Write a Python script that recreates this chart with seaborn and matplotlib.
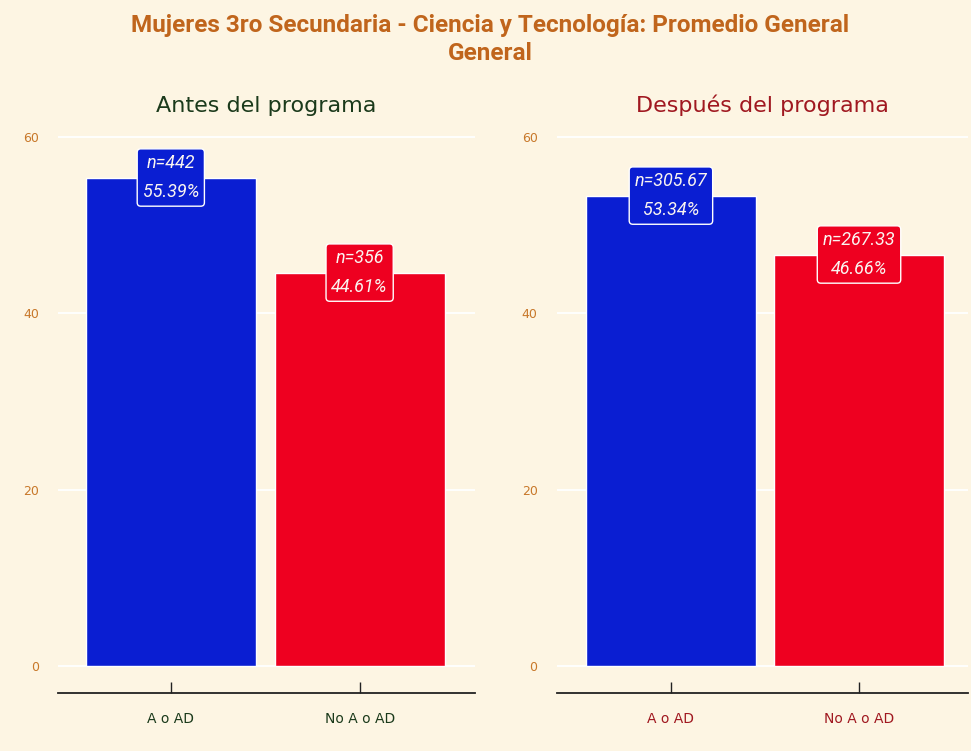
import matplotlib
matplotlib.use("Agg")
import matplotlib.pyplot as plt
import seaborn as sns
import pandas as pd
from matplotlib import font_manager

categories = ["A o AD", "No A o AD"]
antes_pct = [55.39, 44.61]
antes_n = ["442", "356"]
despues_pct = [53.34, 46.66]
despues_n = ["305.67", "267.33"]
panel_titles = ["Antes del programa", "Después del programa"]
main_title = "Mujeres 3ro Secundaria - Ciencia y Tecnología: Promedio General\nGeneral"
yticks = [0, 20, 40, 60]

sns.set_theme(style="white")
names = {f.name for f in font_manager.fontManager.ttflist}
narrow = "Liberation Sans Narrow" if "Liberation Sans Narrow" in names else "Roboto"
plt.rcParams['font.family'] = ['DejaVu Sans']

bg = "#FDF5E3"
bar_colors = ["#0A1ED2", "#EE0020"]
title_col = "#C0651C"
tick_col = "#C8782A"
panel_cols = ["#1B3A1B", "#A01820"]

fig = plt.figure(figsize=(9.71, 7.51), dpi=100, facecolor=bg)
axes = [fig.add_axes([0.060, 0.0772, 0.429, 0.757]),
        fig.add_axes([0.5736, 0.0772, 0.4234, 0.757])]
xlims = [(-0.596, 1.61), (-0.606, 1.58)]

for i, (ax, pct, nn) in enumerate(zip(axes, [antes_pct, despues_pct], [antes_n, despues_n])):
    df = pd.DataFrame({"cat": categories, "pct": pct})
    sns.barplot(data=df, x="cat", y="pct", hue="cat", palette=bar_colors,
                legend=False, width=0.9, ax=ax, saturation=1)
    ax.set_facecolor(bg)
    ax.set_ylim(-3.06, 61.4)
    ax.set_xlim(*xlims[i])
    ax.set_yticks(yticks)
    for y in yticks:
        ax.axhline(y, color="white", lw=1.3, zorder=0)
    for sp in ["top", "right", "left"]:
        ax.spines[sp].set_visible(False)
    ax.spines["bottom"].set_color("#222222")
    ax.spines["bottom"].set_linewidth(1.3)
    ax.tick_params(axis="x", bottom=True, direction="in", length=8, width=1, color="#222222",
                   pad=14, labelsize=10, labelcolor=panel_cols[i])
    ax.tick_params(axis="y", length=0, pad=14, labelsize=9, labelcolor=tick_col)
    ax.set_xlabel("")
    ax.set_ylabel("")
    ax.set_title(panel_titles[i], color=panel_cols[i], fontsize=16, pad=9)
    for j, (p, n) in enumerate(zip(pct, nn)):
        ax.text(j, p, f"n={n}\n{p:.2f}%", ha="center", va="center", color="#FAF4F0",
                fontsize=13, style="italic", family=narrow, linespacing=1.75,
                bbox=dict(boxstyle="round,pad=0.3,rounding_size=0.2",
                          fc=bar_colors[j], ec="white", lw=1))

fig.text(0.505, 0.982, main_title, ha="center", va="top", color=title_col,
         fontsize=17.5, fontweight="bold", family=narrow, linespacing=1.3)

fig.savefig("out.png", dpi=100, facecolor=bg)
